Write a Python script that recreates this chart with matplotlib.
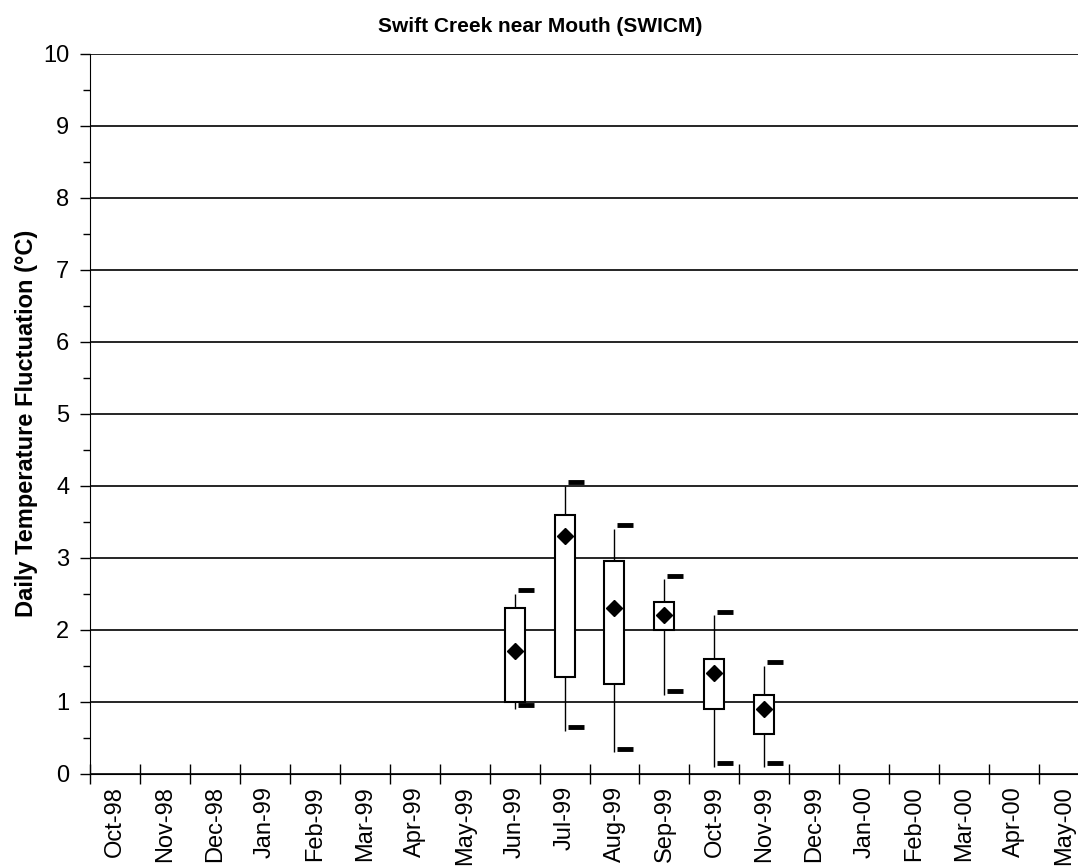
import numpy as np
from matplotlib import pyplot as plt
import matplotlib.ticker as mtick

plt.rcParams['font.family'] = ['Liberation Sans', 'DejaVu Sans']

# month categories on the x axis
months = ["Oct-98", "Nov-98", "Dec-98", "Jan-99", "Feb-99", "Mar-99", "Apr-99", "May-99",
          "Jun-99", "Jul-99", "Aug-99", "Sep-99", "Oct-99", "Nov-99", "Dec-99",
          "Jan-00", "Feb-00", "Mar-00", "Apr-00", "May-00"]

# months that have data
data_months = ["Jun-99", "Jul-99", "Aug-99", "Sep-99", "Oct-99", "Nov-99"]
whisker_low = [0.9, 0.6, 0.3, 1.1, 0.1, 0.1]
box_low = [1.0, 1.35, 1.25, 2.0, 0.9, 0.55]
box_high = [2.3, 3.6, 2.95, 2.38, 1.6, 1.1]
whisker_high = [2.5, 4.0, 3.4, 2.7, 2.2, 1.5]
mean_val = [1.7, 3.3, 2.3, 2.2, 1.4, 0.9]
dash_high = [2.55, 4.05, 3.45, 2.75, 2.25, 1.55]
dash_low = [0.95, 0.65, 0.35, 1.15, 0.15, 0.15]

fig = plt.figure(figsize=(10.78, 8.66), dpi=100)
ax = fig.add_axes([90/1078, 92.3/866, 999/1078, 720/866])

x = np.array([months.index(m) + 0.5 for m in data_months])

ax.vlines(x, whisker_low, whisker_high, color='black', lw=1, zorder=2)
ax.bar(x, np.array(box_high) - np.array(box_low), bottom=box_low, width=0.4,
       facecolor='white', edgecolor='black', lw=1.5, zorder=3)
ax.plot(x, mean_val, 'D', color='black', ms=8, zorder=4, ls='none')
ax.plot(x + 0.22, dash_high, '_', color='black', ms=11, mew=3.5, zorder=4, ls='none')
ax.plot(x + 0.22, dash_low, '_', color='black', ms=11, mew=3.5, zorder=4, ls='none')

ax.set_xlim(0, 20)
ax.set_ylim(0, 10)
ax.set_xticks(np.arange(0, 20))
ax.set_xticklabels([])
ax.set_xticks(np.arange(20) + 0.5, minor=True)
ax.set_xticklabels(months, minor=True, rotation=90, fontsize=17)
ax.tick_params(axis='x', which='major', direction='inout', length=14, width=1)
ax.tick_params(axis='x', which='minor', length=0, pad=9)

ax.yaxis.set_major_locator(mtick.MultipleLocator(1))
ax.yaxis.set_minor_locator(mtick.MultipleLocator(0.5))
ax.tick_params(axis='y', which='major', direction='out', length=7, width=1, labelsize=17, pad=8)
ax.tick_params(axis='y', which='minor', direction='out', length=5, width=1)

ax.grid(True, axis='y', color='black', lw=1.2)
ax.set_axisbelow(True)
for s in ['top', 'right']:
    ax.spines[s].set_visible(False)

ax.set_ylabel('Daily Temperature Fluctuation (°C)', fontsize=17, fontweight='bold')
ax.yaxis.set_label_coords(-52/999, 0.486)
fig.text(540/1078, 1 - 27/866, 'Swift Creek near Mouth (SWICM)', fontsize=15,
         fontweight='bold', ha='center', va='center')

plt.savefig('out.png', dpi=100)
